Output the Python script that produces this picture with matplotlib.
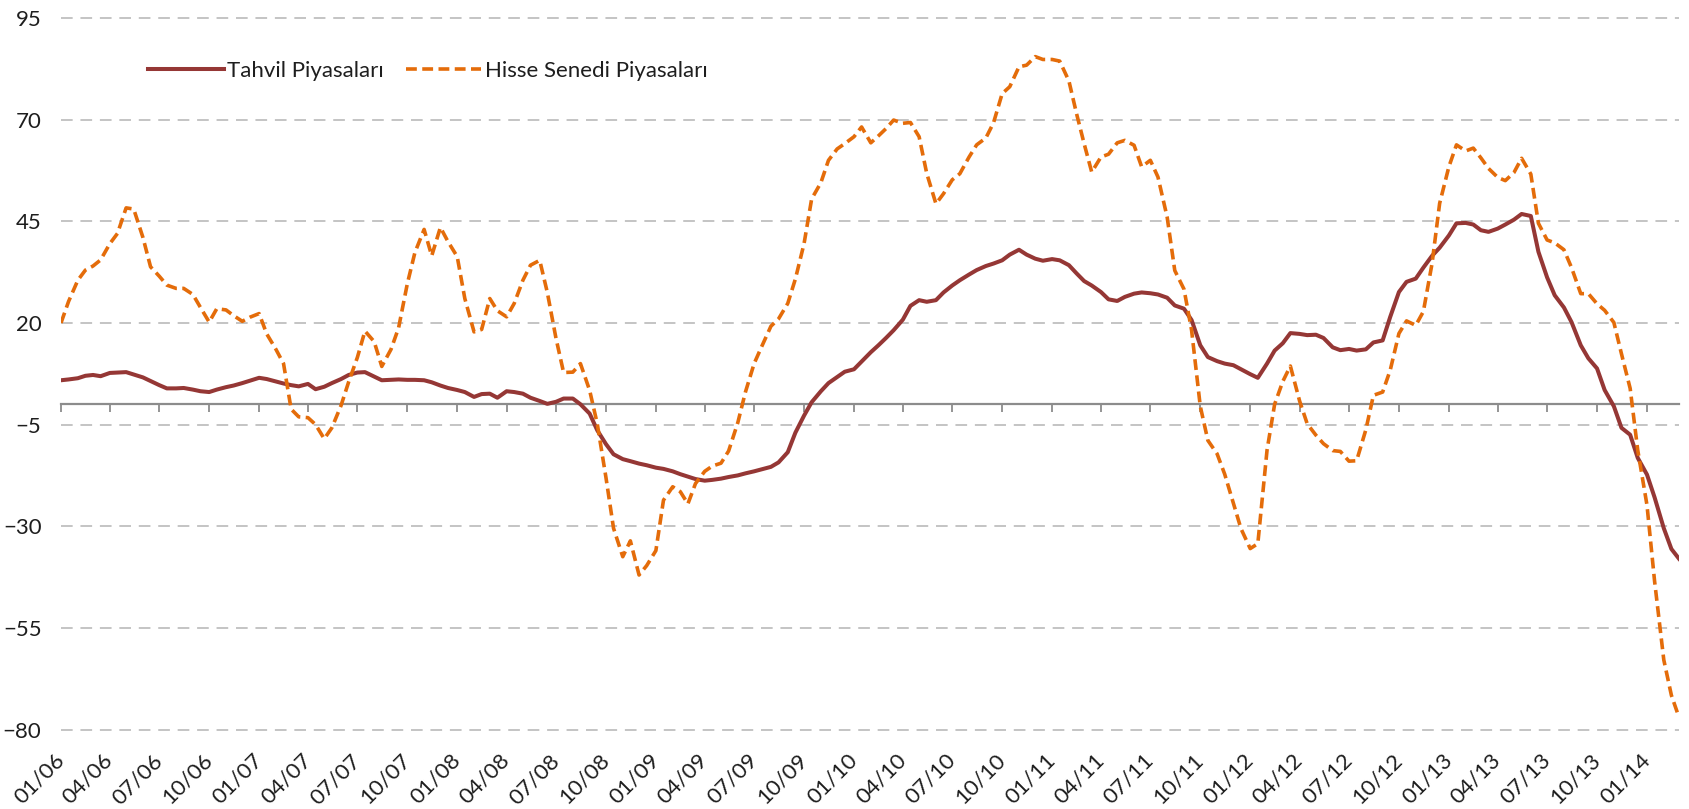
import matplotlib
matplotlib.use("Agg")
import matplotlib.pyplot as plt
import matplotlib.dates as mdates
import pandas as pd
import numpy as np

plt.rcParams['font.family'] = ['Lato', 'DejaVu Sans']

# Semi-monthly observations, Jan 2006 - Mar 2014
dates = pd.date_range('2006-01-01', '2014-03-01', freq='SMS')

tahvil = [
    # 2006
    5.9, 6.1, 6.4, 7.0, 7.2, 6.9, 7.7, 7.8, 7.9, 7.3, 6.6, 5.7,
    4.7, 3.9, 3.9, 4.0, 3.6, 3.2, 3.0, 3.6, 4.2, 4.6, 5.2, 5.8,
    # 2007
    6.5, 6.2, 5.6, 5.1, 4.7, 4.4, 5.0, 3.7, 4.3, 5.2, 6.2, 7.2,
    7.8, 7.9, 6.8, 5.9, 6.0, 6.1, 6.0, 6.0, 5.9, 5.4, 4.6, 4.0,
    # 2008
    3.5, 3.0, 1.8, 2.5, 2.6, 1.6, 3.2, 3.0, 2.6, 1.6, 0.8, 0.1,
    0.6, 1.4, 1.4, 0.0, -2.3, -6.4, -9.8, -12.3, -13.5, -14.0, -14.6, -15.0,
    # 2009
    -15.6, -15.9, -16.5, -17.2, -17.8, -18.4, -18.8, -18.6, -18.3, -17.9, -17.5, -17.0,
    -16.5, -16.0, -15.4, -14.3, -11.8, -7.0, -2.8, 0.5, 3.2, 5.2, 6.7, 8.0,
    # 2010
    8.6, 10.5, 12.8, 14.5, 16.3, 18.2, 20.8, 24.2, 25.6, 25.2, 25.6, 27.5,
    29.2, 30.5, 31.9, 33.0, 34.0, 34.6, 35.4, 36.8, 38.0, 36.8, 35.8, 35.3,
    # 2011
    35.7, 35.4, 34.2, 32.2, 30.3, 29.2, 27.6, 25.8, 25.4, 26.4, 27.2, 27.5,
    27.3, 27.0, 26.2, 24.3, 23.5, 20.7, 14.5, 11.6, 10.6, 10.0, 9.6, 8.6,
    # 2012
    7.4, 6.5, 10.0, 13.2, 15.0, 17.5, 17.3, 17.0, 17.1, 16.3, 14.0, 13.3,
    13.6, 13.2, 13.5, 15.2, 15.7, 21.5, 27.6, 30.1, 30.9, 33.6, 36.5, 38.5,
    # 2013
    41.5, 44.5, 44.6, 44.2, 42.8, 42.4, 43.2, 44.2, 45.4, 46.8, 46.3, 37.5,
    31.2, 26.8, 23.8, 20.2, 14.5, 11.3, 8.8, 3.5, -0.5, -5.8, -7.5, -13.2,
    # 2014
    -17.3, -22.9, -30.5, -35.6, -38.0,
]

hisse = [
    # 2006
    20.0, 25.3, 30.5, 33.0, 34.0, 35.5, 39.5, 42.0, 48.3, 48.0, 41.0, 33.8,
    31.5, 29.3, 28.5, 28.5, 27.0, 23.8, 20.2, 23.5, 23.2, 21.8, 20.4, 21.4,
    # 2007
    22.3, 17.3, 13.5, 10.0, -1.2, -3.1, -3.3, -5.0, -8.5, -5.8, -0.3, 5.5,
    11.5, 18.0, 15.4, 9.3, 13.5, 18.8, 29.6, 37.3, 43.0, 36.5, 43.5, 40.0,
    # 2008
    36.3, 26.0, 17.8, 18.4, 26.0, 23.0, 21.5, 24.8, 30.5, 34.2, 35.4, 27.5,
    16.2, 7.8, 7.9, 10.0, 3.4, -4.8, -18.0, -30.5, -37.5, -33.6, -42.0, -39.7,
    # 2009
    -36.0, -23.6, -20.3, -21.5, -24.5, -19.5, -16.5, -15.2, -14.5, -11.5, -4.5, 3.0,
    10.0, 14.2, 19.2, 21.0, 24.8, 30.8, 39.5, 50.5, 54.5, 60.0, 62.8, 64.1,
    # 2010
    65.8, 68.2, 64.3, 66.0, 67.8, 69.9, 69.1, 69.3, 65.8, 56.8, 49.3, 51.8,
    55.2, 56.7, 60.8, 63.8, 65.5, 69.2, 76.4, 78.1, 83.0, 83.4, 85.5, 84.8,
    # 2011
    84.8, 84.4, 79.5, 71.5, 64.1, 57.1, 60.8, 61.5, 64.3, 64.9, 63.7, 58.4,
    60.0, 55.9, 46.0, 32.9, 28.3, 18.2, -0.5, -8.9, -12.2, -17.2, -24.3, -30.6,
    # 2012
    -35.5, -34.3, -11.3, 0.0, 5.6, 9.4, 0.8, -4.8, -7.6, -9.7, -11.4, -11.6,
    -14.0, -13.9, -6.3, 2.2, 3.0, 8.4, 17.4, 20.5, 19.4, 22.8, 34.6, 49.4,
    # 2013
    58.4, 63.8, 62.3, 63.0, 60.6, 58.0, 55.8, 55.0, 57.0, 60.5, 56.6, 44.5,
    40.4, 39.7, 38.0, 33.6, 27.2, 27.2, 24.7, 23.1, 20.1, 12.4, 3.9, -11.3,
    # 2014
    -24.8, -43.5, -62.9, -71.6, -77.0,
]

series_names = ['Tahvil Piyasaları', 'Hisse Senedi Piyasaları']
y_ticks = [-80, -55, -30, -5, 20, 45, 70, 95]
tick_dates = pd.date_range('2006-01-01', '2014-01-01', freq='QS')
tick_labels = [d.strftime('%m/%y') for d in tick_dates]

x = mdates.date2num(dates.to_pydatetime())
xt = mdates.date2num(tick_dates.to_pydatetime())

W, H = 1690, 809
fig = plt.figure(figsize=(W / 100, H / 100), dpi=100)
ax = fig.add_axes([61 / W, 1 - 729.5 / H, (1679 - 61) / W, (729.5 - 18) / H])

ax.set_xlim(x[0], x[-1])
ax.set_ylim(-80, 95)

ax.set_yticks(y_ticks)
ax.yaxis.grid(True, linestyle=(0, (6, 4)), color='#c4c4c4', lw=1.4)
for gl in ax.yaxis.get_gridlines():
    gl.set_clip_on(False)
ax.set_axisbelow(True)
ax.tick_params(axis='y', length=0, pad=14, labelsize=16, labelcolor='#1e1e1e')

for s in ['top', 'left', 'right']:
    ax.spines[s].set_visible(False)
ax.spines['bottom'].set_position(('data', 0))
ax.spines['bottom'].set_color('#8c8c8c')
ax.spines['bottom'].set_linewidth(1.6)
ax.spines['bottom'].set_zorder(2.5)
ax.set_xticks(xt)
ax.tick_params(axis='x', direction='out', length=6, width=1.3, color='#8c8c8c',
               labelbottom=False)

sec = ax.secondary_xaxis('bottom')
sec.set_xticks(xt)
sec.set_xticklabels(tick_labels, rotation=45, ha='right', va='center',
                    rotation_mode='anchor', fontsize=16, color='#1e1e1e')
sec.tick_params(length=0, pad=20)
sec.spines['bottom'].set_visible(False)

l1, = ax.plot(x, tahvil, color='#953735', lw=2.9, zorder=3,
              solid_joinstyle='round', label=series_names[0])
l2, = ax.plot(x, hisse, color='#E46C0A', lw=2.6, zorder=4,
              linestyle=(0, (3.0, 1.5)), label=series_names[1])

leg = fig.legend(handles=[l1, l2], loc='center left',
                 bbox_to_anchor=(148 / W, 1 - 71 / H), ncol=2, frameon=False,
                 fontsize=16, handlelength=3.4, handletextpad=0.15,
                 columnspacing=1.0, borderpad=0, borderaxespad=0)
for t in leg.get_texts():
    t.set_color('#1e1e1e')

fig.savefig('out.png', dpi=100, facecolor='white')
